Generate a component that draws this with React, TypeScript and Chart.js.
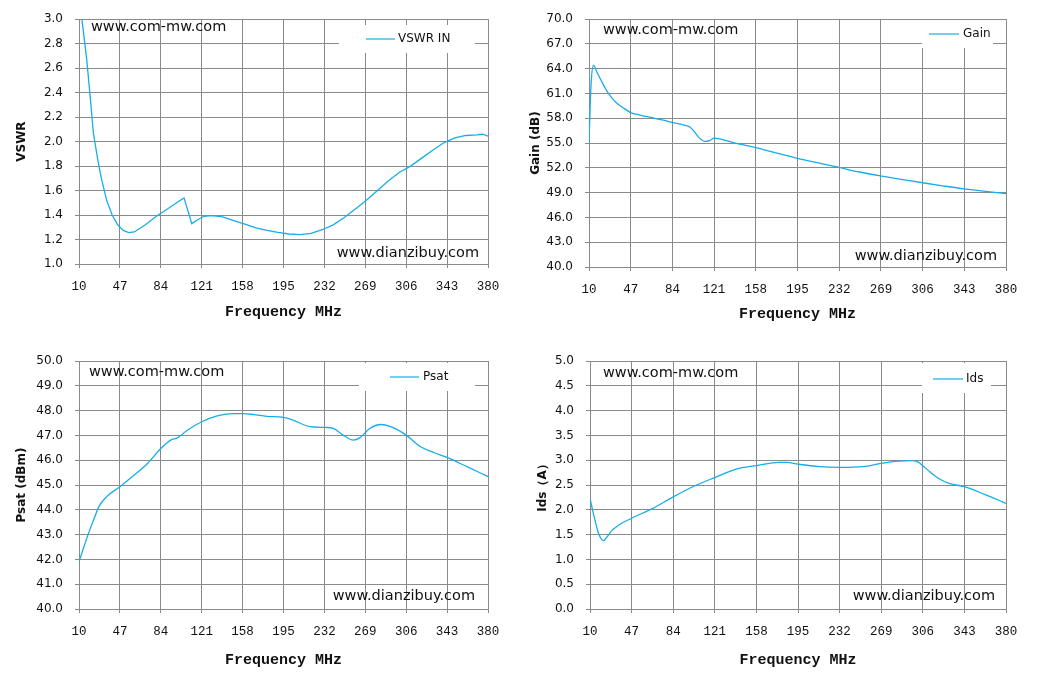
import React, { useEffect, useRef } from "react";
import { Chart, registerables } from "chart.js";

Chart.register(...registerables);

// shared frequency ticks (MHz)
const X_TICKS = [10, 47, 84, 121, 158, 195, 232, 269, 306, 343, 380];

// VSWR IN
const VSWR_FREQ = [10, 13, 17, 20, 23, 27, 30, 35, 40, 45, 50, 55, 60, 70, 80, 90, 100, 105, 108, 112, 117, 123, 130, 140, 150, 160, 170, 180, 190, 200, 210, 220, 230, 240, 250, 260, 270, 280, 290, 300, 310, 320, 330, 340, 350, 360, 370, 375, 380];
const VSWR_VALUES = [3.22, 2.97, 2.67, 2.38, 2.07, 1.85, 1.71, 1.52, 1.4, 1.32, 1.275, 1.256, 1.262, 1.32, 1.39, 1.45, 1.51, 1.54, 1.45, 1.33, 1.36, 1.39, 1.395, 1.385, 1.355, 1.325, 1.295, 1.275, 1.258, 1.245, 1.24, 1.25, 1.28, 1.32, 1.38, 1.45, 1.52, 1.6, 1.68, 1.75, 1.8, 1.865, 1.93, 1.99, 2.03, 2.05, 2.055, 2.06, 2.045];

// Gain
const GAIN_FREQ = [10, 11, 12, 14, 17, 20, 25, 30, 35, 40, 47, 55, 65, 75, 84, 95, 100, 104, 108, 113, 117, 121, 126, 140, 158, 175, 195, 215, 232, 250, 270, 290, 306, 325, 343, 362, 380];
const GAIN_VALUES = [55.0, 59.3, 62.5, 64.4, 63.6, 62.8, 61.5, 60.5, 59.8, 59.3, 58.7, 58.4, 58.1, 57.8, 57.5, 57.15, 56.9, 56.3, 55.6, 55.2, 55.3, 55.6, 55.5, 55.0, 54.45, 53.85, 53.15, 52.55, 52.05, 51.5, 51.0, 50.55, 50.2, 49.8, 49.45, 49.15, 48.9];

// Psat
const PSAT_FREQ = [10, 14, 19, 24, 28, 35, 47, 60, 72, 84, 93, 99, 108, 121, 135, 150, 158, 168, 180, 195, 204, 219, 233, 240, 249, 258, 264, 273, 283, 292, 306, 319, 331, 343, 361, 380];
const PSAT_VALUES = [41.9, 42.45, 43.1, 43.68, 44.13, 44.53, 44.93, 45.4, 45.87, 46.47, 46.81, 46.9, 47.21, 47.55, 47.79, 47.88, 47.88, 47.84, 47.77, 47.73, 47.61, 47.35, 47.32, 47.28, 47.01, 46.81, 46.9, 47.28, 47.44, 47.35, 47.01, 46.54, 46.31, 46.11, 45.74, 45.34];

// Ids
const IDS_FREQ = [10, 14, 18, 22, 25, 29, 36, 47, 66, 84, 102, 121, 140, 158, 178, 185, 195, 214, 232, 253, 269, 285, 296, 302, 306, 312, 320, 330, 343, 362, 380];
const IDS_VALUES = [2.23, 1.83, 1.5, 1.38, 1.45, 1.57, 1.7, 1.83, 2.03, 2.26, 2.47, 2.65, 2.82, 2.89, 2.955, 2.955, 2.92, 2.87, 2.855, 2.87, 2.935, 2.98, 2.99, 2.96, 2.89, 2.77, 2.63, 2.53, 2.465, 2.3, 2.13];

const LINE_COLOR = "#16ADE9";
const GRID_COLOR = "#8a8a8a";
const TEXT_COLOR = "#111";

interface PanelProps {
  freq: number[];
  values: number[];
  label: string;
  yTitle: string;
  yMin: number;
  yMax: number;
  yStep: number;
  smooth: boolean;
  pos: { left: number; top: number; w: number; h: number };
  area: { left: number; right: number; top: number; bottom: number };
  yTitlePad: number;
  xTitlePad: number;
  legend: { x: number; y: number; w: number; h: number; lineX: number; lineLen: number; textX: number; midY: number };
  marks: { x1: number; y1: number; x2: number; y2: number };
}

const Panel: React.FC<PanelProps> = (p) => {
  const canvasRef = useRef<HTMLCanvasElement | null>(null);

  useEffect(() => {
    if (!canvasRef.current) return;

    const overlay = {
      id: "overlay",
      afterDraw(chart: any) {
        const { ctx } = chart;
        const lg = p.legend;
        ctx.save();
        // legend box sits on top of grid
        ctx.fillStyle = "#fff";
        ctx.fillRect(lg.x, lg.y, lg.w, lg.h);
        ctx.strokeStyle = LINE_COLOR;
        ctx.lineWidth = 1.2;
        ctx.beginPath();
        ctx.moveTo(lg.lineX, lg.midY);
        ctx.lineTo(lg.lineX + lg.lineLen, lg.midY);
        ctx.stroke();
        ctx.fillStyle = TEXT_COLOR;
        ctx.font = "12px 'DejaVu Sans'";
        ctx.textBaseline = "middle";
        ctx.textAlign = "left";
        ctx.fillText(p.label, lg.textX, lg.midY);

        ctx.font = "14.5px 'DejaVu Sans'";
        ctx.fillText("www.com-mw.com", p.marks.x1, p.marks.y1);
        ctx.textAlign = "right";
        ctx.fillText("www.dianzibuy.com", p.marks.x2, p.marks.y2);
        ctx.restore();
      },
    };

    const chart = new Chart(canvasRef.current, {
      type: "line",
      data: {
        datasets: [
          {
            label: p.label,
            data: p.freq.map((f, i) => ({ x: f, y: p.values[i] })),
            borderColor: LINE_COLOR,
            borderWidth: 1.3,
            pointRadius: 0,
            tension: p.smooth ? 0.4 : 0,
            cubicInterpolationMode: p.smooth ? "monotone" : "default",
            fill: false,
          },
        ],
      },
      options: {
        responsive: false,
        animation: false,
        layout: {
          padding: { left: 0, top: p.area.top, right: p.pos.w - p.area.right, bottom: 0 },
        },
        plugins: {
          legend: { display: false },
          tooltip: { enabled: false },
        },
        scales: {
          x: {
            type: "linear",
            min: 10,
            max: 380,
            afterBuildTicks: (scale: any) => {
              scale.ticks = X_TICKS.map((v) => ({ value: v }));
            },
            afterFit: (scale: any) => {
              scale.height = p.pos.h - p.area.bottom;
            },
            grid: { color: GRID_COLOR, lineWidth: 1, tickLength: 4, drawTicks: true },
            border: { color: GRID_COLOR },
            ticks: {
              color: TEXT_COLOR,
              font: { family: "'Liberation Mono'", size: 12.5 },
              padding: 11,
              maxRotation: 0,
              autoSkip: false,
            },
            title: {
              display: true,
              text: "Frequency MHz",
              color: TEXT_COLOR,
              font: { family: "'Liberation Mono'", size: 15, weight: "bold" },
              padding: { top: 0, bottom: p.xTitlePad },
            },
          },
          y: {
            min: p.yMin,
            max: p.yMax,
            afterFit: (scale: any) => {
              scale.width = p.area.left;
            },
            grid: { color: GRID_COLOR, lineWidth: 1, tickLength: 4, drawTicks: true },
            border: { color: GRID_COLOR },
            ticks: {
              stepSize: p.yStep,
              color: TEXT_COLOR,
              font: { family: "'DejaVu Sans'", size: 12 },
              padding: 12,
              callback: (v: any) => Number(v).toFixed(1),
            },
            title: {
              display: true,
              text: p.yTitle,
              color: TEXT_COLOR,
              font: { family: "'DejaVu Sans'", size: 12, weight: "bold" },
              padding: { top: p.yTitlePad, bottom: 0 },
            },
          },
        },
      },
      plugins: [overlay],
    } as any);

    return () => {
      chart.destroy();
    };
  }, []);

  return (
    <canvas
      ref={canvasRef}
      width={p.pos.w}
      height={p.pos.h}
      style={{ position: "absolute", left: p.pos.left, top: p.pos.top, width: p.pos.w, height: p.pos.h }}
    />
  );
};

export default function App() {
  useEffect(() => {
    document.body.style.margin = "0";
    document.body.style.background = "#fff";
  }, []);

  return (
    <div style={{ position: "relative", width: 1039, height: 681, background: "#fff" }}>
      <Panel
        freq={VSWR_FREQ}
        values={VSWR_VALUES}
        label="VSWR IN"
        yTitle="VSWR"
        yMin={1}
        yMax={3}
        yStep={0.2}
        smooth={false}
        pos={{ left: 0, top: 0, w: 519, h: 340 }}
        area={{ left: 79, right: 488, top: 14, bottom: 264 }}
        yTitlePad={15}
        xTitlePad={19}
        legend={{ x: 339, y: 25, w: 136, h: 28, lineX: 366, lineLen: 29, textX: 398, midY: 39 }}
        marks={{ x1: 91, y1: 27, x2: 479, y2: 253 }}
      />
      <Panel
        freq={GAIN_FREQ}
        values={GAIN_VALUES}
        label="Gain"
        yTitle="Gain (dB)"
        yMin={40}
        yMax={70}
        yStep={3}
        smooth={true}
        pos={{ left: 520, top: 0, w: 519, h: 340 }}
        area={{ left: 69, right: 486, top: 18, bottom: 267 }}
        yTitlePad={9}
        xTitlePad={17}
        legend={{ x: 402, y: 20, w: 71, h: 28, lineX: 409, lineLen: 30, textX: 443, midY: 34 }}
        marks={{ x1: 83, y1: 30, x2: 477, y2: 256 }}
      />
      <Panel
        freq={PSAT_FREQ}
        values={PSAT_VALUES}
        label="Psat"
        yTitle="Psat (dBm)"
        yMin={40}
        yMax={50}
        yStep={1}
        smooth={true}
        pos={{ left: 0, top: 340, w: 519, h: 341 }}
        area={{ left: 79, right: 488, top: 21, bottom: 269 }}
        yTitlePad={15}
        xTitlePad={12}
        legend={{ x: 359, y: 23, w: 116, h: 28, lineX: 390, lineLen: 29, textX: 423, midY: 37 }}
        marks={{ x1: 89, y1: 32, x2: 475, y2: 256 }}
      />
      <Panel
        freq={IDS_FREQ}
        values={IDS_VALUES}
        label="Ids"
        yTitle="Ids（A）"
        yMin={0}
        yMax={5}
        yStep={0.5}
        smooth={true}
        pos={{ left: 520, top: 340, w: 519, h: 341 }}
        area={{ left: 70, right: 486, top: 21, bottom: 269 }}
        yTitlePad={16}
        xTitlePad={12}
        legend={{ x: 402, y: 23, w: 69, h: 30, lineX: 413, lineLen: 30, textX: 446, midY: 39 }}
        marks={{ x1: 83, y1: 33, x2: 475, y2: 256 }}
      />
    </div>
  );
}
